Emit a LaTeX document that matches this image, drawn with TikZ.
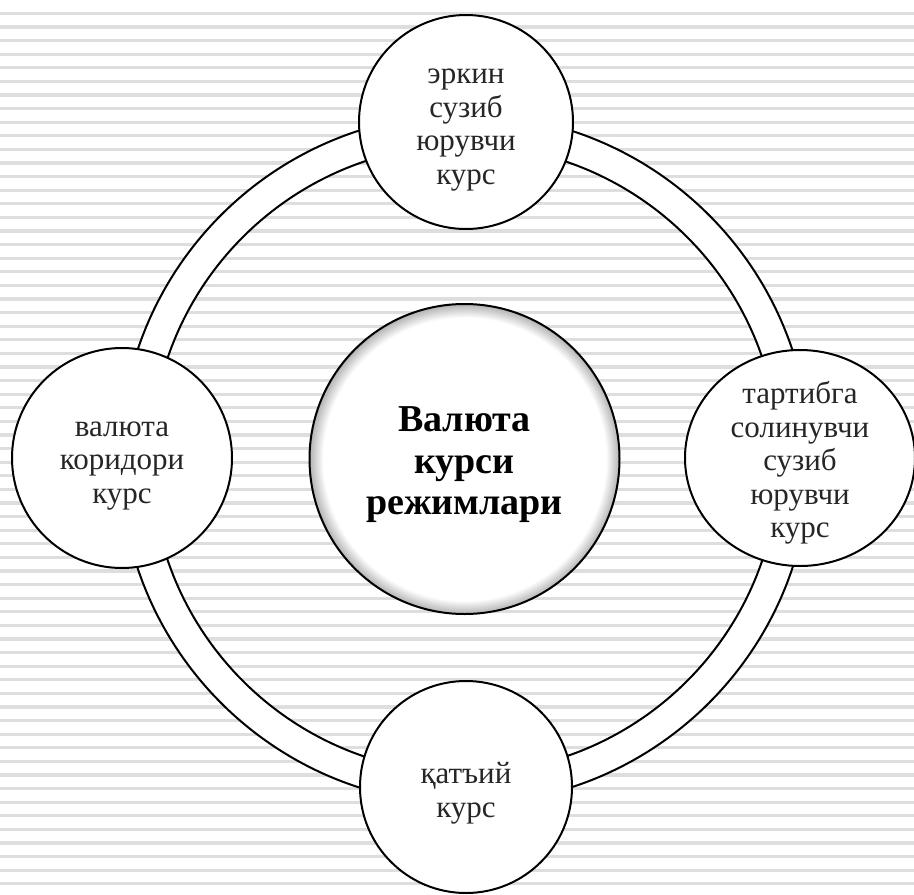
\documentclass[tikz,border=0pt]{standalone}
\usepackage{fontspec}
\setmainfont{Liberation Serif}
\usetikzlibrary{shapes.geometric}
\pgfdeclareradialshading{hubshade}{\pgfpoint{0bp}{0bp}}{color(0bp)=(white); color(22.8bp)=(white); color(25bp)=(black!30); color(50bp)=(black!30)}
\begin{document}
\begin{tikzpicture}[x=1pt,y=-1pt,
  bubble/.style={circle, draw=black, line width=2pt, fill=white, inner sep=0pt},
  btext/.style={align=center, text=black!85, font=\fontsize{31}{33.5}\selectfont, inner sep=0pt},
  hub/.style={circle, draw=black, line width=2pt, shade, shading=hubshade, minimum size=310pt, inner sep=0pt},
  hubtext/.style={align=center, font=\fontsize{38}{41.5}\selectfont\bfseries, inner sep=0pt},
  ringline/.style={draw=black, line width=2pt},
  stripe/.style={draw=black!13, line width=3.2pt}]
\useasboundingbox (0,0) rectangle (914,895);
\clip (0,0) rectangle (914,895);
\fill[white] (0,0) rectangle (914,895);
\foreach \k in {0,...,65} \draw[stripe] (0,13.4+13.6*\k) -- (914,13.4+13.6*\k);
\coordinate (c) at (465,459);
\fill[white, even odd rule] (c) circle[radius=345pt] (c) circle[radius=314pt];
\draw[ringline] (c) circle[radius=345pt];
\draw[ringline] (c) circle[radius=314pt];
\node[hub] (hubnode) at (464.5,459) {};
\node[hubtext] (hublabel) at ([yshift=-6pt]hubnode.center) {Валюта\\курси\\режимлари};
\node[bubble, minimum size=214pt] (top) at (466,122) {};
\node[btext] (toplabel) at ([yshift=-8pt]top.center) {эркин\\сузиб\\юрувчи\\курс};
\node[bubble, minimum size=220pt] (left) at (122,458) {};
\node[btext] (leftlabel) at ([yshift=-8pt]left.center) {валюта\\коридори\\курс};
\node[bubble, ellipse, minimum width=230pt, minimum height=216pt] (right) at (800,458) {};
\node[btext] (rightlabel) at ([yshift=-5pt]right.center) {тартибга\\солинувчи\\сузиб\\юрувчи\\курс};
\node[bubble, minimum size=212pt] (bottom) at (466,787) {};
\node[btext] (bottomlabel) at ([yshift=-6pt]bottom.center) {қатъий\\курс};
\end{tikzpicture}
\end{document}
